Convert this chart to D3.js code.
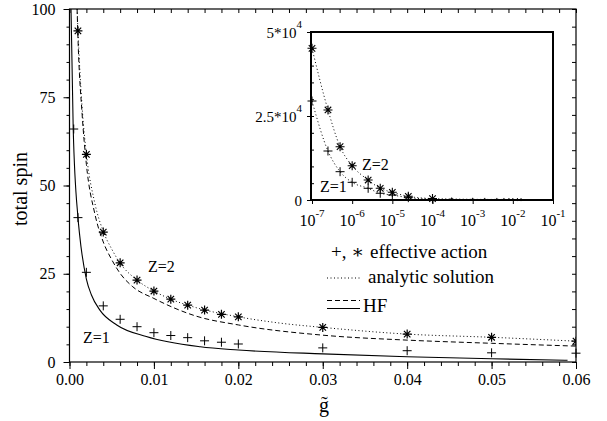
<!DOCTYPE html>
<html>
<head>
<meta charset="utf-8">
<script src="https://cdn.jsdelivr.net/npm/d3@7"></script>
<style>
  body { margin: 0; background: #fff; }
  svg text { font-family: "Liberation Serif", "Times New Roman", "DejaVu Serif", serif !important; fill: #000; }
  .axis path.domain { display: none; }
  .axis line { stroke: #000; stroke-width: 1; }
  .axis text { font-size: 16px; }
</style>
</head>
<body>
<div id="chart"></div>
<script>
// ---------- data ----------
// main plot: g-tilde vs total spin
var markG      = [0.001, 0.002, 0.004, 0.006, 0.008, 0.010, 0.012, 0.014, 0.016, 0.018, 0.020, 0.030, 0.040, 0.050, 0.060];
var starZ2     = [93.8, 58.8, 36.8, 28.1, 23.2, 20.1, 17.8, 16.1, 14.7, 13.5, 12.8, 9.8, 7.9, 7.0, 5.9];
var plusG      = [0.0005, 0.001, 0.002, 0.004, 0.006, 0.008, 0.010, 0.012, 0.014, 0.016, 0.018, 0.020, 0.030, 0.040, 0.050, 0.060];
var plusZ1     = [66.0, 40.9, 25.4, 15.9, 12.1, 10.0, 8.3, 7.5, 6.9, 6.0, 5.6, 5.1, 4.0, 3.2, 2.6, 2.5];

// analytic solution (dotted), Z=2
var anaG   = [0.0009, 0.001, 0.0015, 0.002, 0.003, 0.004, 0.005, 0.006, 0.008, 0.010, 0.012, 0.015, 0.020, 0.025, 0.030, 0.040, 0.050, 0.060];
var anaZ2  = [100, 94, 72, 59, 45, 37, 32, 28, 23.2, 20.1, 17.8, 15.4, 12.8, 11.0, 9.8, 7.9, 7.0, 5.9];
// HF Z=2 (dashed)
var hf2G   = [0.0009, 0.001, 0.0015, 0.002, 0.003, 0.004, 0.005, 0.006, 0.0075, 0.010, 0.015, 0.020, 0.030, 0.040, 0.050, 0.060];
var hf2S   = [100, 92, 70, 56, 42, 34, 29, 25.1, 21.3, 18.0, 13.0, 10.5, 7.6, 6.2, 5.3, 4.5];
// HF Z=1 (solid)
var hf1G   = [0.00018, 0.00044, 0.001, 0.0012, 0.002, 0.0026, 0.0036, 0.0056, 0.0091, 0.0155, 0.020, 0.030, 0.040, 0.050, 0.059];
var hf1S   = [100, 66, 41, 36, 23.5, 19, 14.7, 10.5, 7.2, 4.3, 3.4, 2.3, 1.5, 0.9, 0.5];

// inset (log x)
var insetG     = [1e-7, 2.5e-7, 5e-7, 1e-6, 2.5e-6, 5e-6, 1e-5, 2.5e-5, 1e-4];
var insetStar  = [45150, 26790, 15860, 10200, 5950, 3480, 2290, 1100, 420];
var insetPlus  = [29460, 14580, 8430, 5260, 3480, 2000, 1490, 700, 260];
var insetDotG  = [3e-4, 1e-3, 2e-3, 4e-3, 6e-3, 8e-3, 1e-2, 1.3e-2, 1.6e-2];
var insetDotV  = [300, 200, 180, 170, 160, 150, 140, 130, 120];

var xTicks  = [0, 0.01, 0.02, 0.03, 0.04, 0.05, 0.06];
var yTicks  = [0, 25, 50, 75, 100];
var insetDecades = [-7, -6, -5, -4, -3, -2, -1];

// ---------- set-up ----------
var width = 607, height = 421;
var svg = d3.select("#chart").append("svg")
    .attr("width", width).attr("height", height);

var x = d3.scaleLinear().domain([0, 0.06]).range([69.5, 576]);
var y = d3.scaleLinear().domain([0, 100]).range([362, 9]);

svg.append("defs").append("clipPath").attr("id", "mainClip")
   .append("rect").attr("x", 69.5).attr("y", 9).attr("width", 576 - 69.5).attr("height", 362 - 9);

// axes: major + minor ticks
function minorVals(a, b, s) { var r = []; for (var v = a; v <= b + 1e-9; v += s) r.push(+v.toFixed(6)); return r; }

svg.append("g").attr("class", "axis").attr("transform", "translate(0,362)")
   .call(d3.axisBottom(x).tickValues(minorVals(0, 0.06, 0.002)).tickSize(4).tickFormat(""));
svg.append("g").attr("class", "axis").attr("transform", "translate(0,362)")
   .call(d3.axisBottom(x).tickValues(xTicks).tickSize(7).tickPadding(5).tickFormat(d3.format(".2f")));
svg.append("g").attr("class", "axis").attr("transform", "translate(69.5,0)")
   .call(d3.axisLeft(y).tickValues(minorVals(0, 100, 5)).tickSize(3).tickFormat(""));
svg.append("g").attr("class", "axis").attr("transform", "translate(69.5,0)")
   .call(d3.axisLeft(y).tickValues(yTicks).tickSize(6).tickPadding(8));
svg.append("g").attr("class", "axis").attr("transform", "translate(0,9)")
   .call(d3.axisTop(x).tickValues(minorVals(0, 0.06, 0.002)).tickSize(-4).tickFormat(""));
svg.append("g").attr("class", "axis").attr("transform", "translate(576,0)")
   .call(d3.axisRight(y).tickValues(minorVals(0, 100, 5)).tickSize(-4).tickFormat(""));

svg.append("rect").attr("x", 69.5).attr("y", 9).attr("width", 576 - 69.5).attr("height", 362 - 9)
   .style("fill", "none").style("stroke", "#000").style("stroke-width", 1.2);

// axis titles
svg.append("text").attr("transform", "translate(27,189) rotate(-90)")
   .attr("text-anchor", "middle").style("font-size", "20px").text("total spin");
svg.append("text").attr("x", 324).attr("y", 412).attr("text-anchor", "middle")
   .style("font-size", "20px").text("g\u0303");

// ---------- lines ----------
var line = d3.line().x(function(d) { return x(d[0]); }).y(function(d) { return y(d[1]); })
             .curve(d3.curveMonotoneX);
var plot = svg.append("g").attr("clip-path", "url(#mainClip)");

plot.append("path").datum(d3.zip(anaG, anaZ2)).attr("d", line)
    .style("fill", "none").style("stroke", "#000").style("stroke-width", 1).style("stroke-dasharray", "1,2.5");
plot.append("path").datum(d3.zip(hf2G, hf2S)).attr("d", line)
    .style("fill", "none").style("stroke", "#000").style("stroke-width", 1).style("stroke-dasharray", "5,3");
plot.append("path").datum(d3.zip(hf1G, hf1S)).attr("d", line)
    .style("fill", "none").style("stroke", "#000").style("stroke-width", 1.1);

// markers
function plusPath(r) { return "M" + (-r) + ",0H" + r + "M0," + (-r) + "V" + r; }
function starPath(r) {
    var k = r * 0.72;
    return plusPath(r) + "M" + (-k) + "," + (-k) + "L" + k + "," + k + "M" + (-k) + "," + k + "L" + k + "," + (-k);
}
plot.selectAll(".star").data(d3.zip(markG, starZ2)).enter().append("path")
    .attr("class", "star")
    .attr("transform", function(d) { return "translate(" + x(d[0]) + "," + y(d[1]) + ")"; })
    .attr("d", starPath(4.5)).style("stroke", "#000").style("stroke-width", 1.2).style("fill", "none");
svg.selectAll(".plus").data(d3.zip(plusG, plusZ1)).enter().append("path")
    .attr("class", "plus")
    .attr("transform", function(d) { return "translate(" + x(d[0]) + "," + y(d[1]) + ")"; })
    .attr("d", plusPath(4.5)).style("stroke", "#000").style("stroke-width", 1).style("fill", "none");

svg.append("text").attr("x", 148).attr("y", 272).style("font-size", "16px").text("Z=2");
svg.append("text").attr("x", 83).attr("y", 343).style("font-size", "16px").text("Z=1");

// legend
var lg = svg.append("g");
lg.append("text").attr("x", 331).attr("y", 258).style("font-size", "19px").text("+, \u2217");
lg.append("text").attr("x", 370).attr("y", 258).style("font-size", "19px").text("effective action");
lg.append("line").attr("x1", 327).attr("x2", 360).attr("y1", 278).attr("y2", 278)
  .style("stroke", "#000").style("stroke-dasharray", "1,2.5");
lg.append("text").attr("x", 368).attr("y", 283).style("font-size", "19px").text("analytic solution");
lg.append("line").attr("x1", 327).attr("x2", 360).attr("y1", 300.5).attr("y2", 300.5)
  .style("stroke", "#000").style("stroke-dasharray", "5,3");
lg.append("line").attr("x1", 327).attr("x2", 360).attr("y1", 308.5).attr("y2", 308.5)
  .style("stroke", "#000");
lg.append("text").attr("x", 363).attr("y", 312).style("font-size", "19px").text("HF");

// ---------- inset ----------
var ix = d3.scaleLog().domain([1e-7, 1e-1]).range([312, 553]);
var iy = d3.scaleLinear().domain([0, 5e4]).range([200, 32]);
var inset = svg.append("g");
inset.append("rect").attr("x", 311).attr("y", 32).attr("width", 553 - 311).attr("height", 200 - 32)
     .style("fill", "#fff");

inset.append("g").attr("class", "axis").attr("transform", "translate(311,0)")
     .call(d3.axisLeft(iy).tickValues(minorVals(0, 50000, 5000)).tickSize(-3).tickFormat(""));
inset.append("g").attr("class", "axis").attr("transform", "translate(311,0)")
     .call(d3.axisLeft(iy).tickValues([0, 25000, 50000]).tickSize(4).tickFormat(""));
inset.append("g").attr("class", "axis").attr("transform", "translate(0,200)")
     .call(d3.axisBottom(ix).tickValues(insetDecades.map(function(e) { return Math.pow(10, e); }))
     .tickSize(4).tickFormat(""));

var iline = d3.line().x(function(d) { return ix(d[0]); }).y(function(d) { return iy(d[1]); })
              .curve(d3.curveMonotoneX);
inset.append("path").datum(d3.zip(insetG.concat(insetDotG), insetStar.concat(insetDotV))).attr("d", iline)
     .style("fill", "none").style("stroke", "#000").style("stroke-dasharray", "1,2.5");
inset.append("path").datum(d3.zip(insetG, insetPlus)).attr("d", iline)
     .style("fill", "none").style("stroke", "#000").style("stroke-dasharray", "1,2.5");
inset.selectAll(".istar").data(d3.zip(insetG, insetStar)).enter().append("path")
     .attr("transform", function(d) { return "translate(" + ix(d[0]) + "," + iy(d[1]) + ")"; })
     .attr("d", starPath(4.5)).style("stroke", "#000").style("stroke-width", 1.1).style("fill", "none");
inset.selectAll(".iplus").data(d3.zip(insetG, insetPlus)).enter().append("path")
     .attr("transform", function(d) { return "translate(" + ix(d[0]) + "," + iy(d[1]) + ")"; })
     .attr("d", plusPath(4.5)).style("stroke", "#000").style("stroke-width", 1).style("fill", "none");
inset.selectAll(".idot").data(d3.zip(insetDotG, insetDotV)).enter().append("path")
     .attr("transform", function(d) { return "translate(" + ix(d[0]) + "," + iy(d[1]) + ")"; })
     .attr("d", plusPath(1.5)).style("stroke", "#000").style("stroke-width", 1).style("fill", "none");

inset.append("rect").attr("x", 311).attr("y", 32).attr("width", 553 - 311).attr("height", 200 - 32)
     .style("fill", "none").style("stroke", "#000").style("stroke-width", 2);

// inset tick labels
var iyLabels = [[50000, "5*10", "4"], [25000, "2.5*10", "4"], [0, "0", ""]];
iyLabels.forEach(function(l) {
    var t = inset.append("text").attr("x", 302).attr("y", iy(l[0]) + 6)
                 .attr("text-anchor", "end").style("font-size", "15px");
    t.append("tspan").text(l[1]);
    if (l[2]) t.append("tspan").attr("dy", -10).style("font-size", "11px").text(l[2]);
});
insetDecades.forEach(function(e) {
    var t = inset.append("text").attr("x", ix(Math.pow(10, e))).attr("y", 226)
                 .attr("text-anchor", "middle").style("font-size", "16px");
    t.append("tspan").text("10");
    t.append("tspan").attr("dy", -9).style("font-size", "11px").text(String(e));
});
inset.append("text").attr("x", 362).attr("y", 170).style("font-size", "16px").text("Z=2");
inset.append("text").attr("x", 320).attr("y", 192).style("font-size", "16px").text("Z=1");
</script>
</body>
</html>
